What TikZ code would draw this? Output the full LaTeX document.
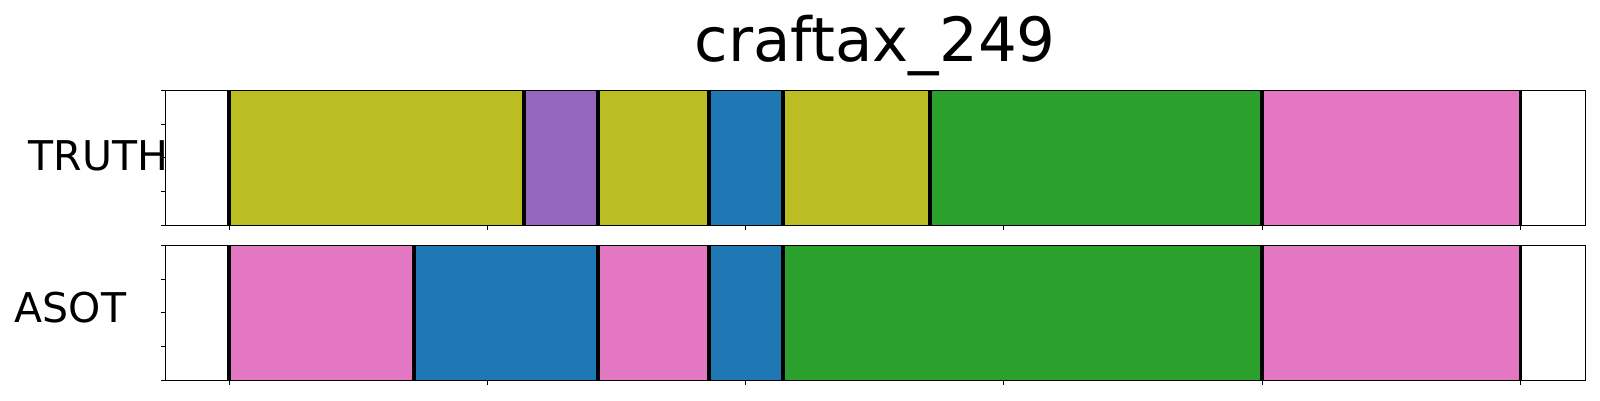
\documentclass[tikz,border=0pt]{standalone}
\usepackage{fontspec}
\setmainfont{DejaVu Sans}
\usepackage{xcolor}
\usetikzlibrary{positioning}
\definecolor{tabolive}{HTML}{BCBD22}
\definecolor{tabpurple}{HTML}{9467BD}
\definecolor{tabblue}{HTML}{1F77B4}
\definecolor{tabgreen}{HTML}{2CA02C}
\definecolor{tabpink}{HTML}{E377C2}

\begin{document}
\begin{tikzpicture}[x=1pt, y=-1pt,
  bound/.style={line width=3.7pt, black},
  frame/.style={line width=1.1pt, black},
  tick/.style={line width=1pt, black},
  rowlabel/.style={font=\fontsize{41}{41}\selectfont, anchor=base west, inner sep=0pt}]
\useasboundingbox (0,0) rectangle (1600,400);

\node[font=\fontsize{61}{61}\selectfont, anchor=base, inner sep=0pt] (title) at (875.3,61.7) {craftax\_249};
\node[rowlabel] (truth) at (28.5,170) {TRUTH};
\node[rowlabel] (asot) at (14.5,322.3) {ASOT};

% TRUTH row
\foreach \xa/\xb/\col in {229.2/523.7/tabolive, 523.7/597.7/tabpurple, 597.7/709/tabolive,
    709/783/tabblue, 783/929.7/tabolive, 929.7/1262/tabgreen, 1262/1520.5/tabpink}
  \fill[\col] (\xa,90.3) rectangle (\xb,225.3);
\foreach \xb in {229.2,523.7,597.7,709,783,929.7,1262,1520.5}
  \draw[bound] (\xb,90.3) -- (\xb,225.3);

% ASOT row
\foreach \xa/\xb/\col in {229.2/413.7/tabpink, 413.7/597.7/tabblue, 597.7/709/tabpink,
    709/783/tabblue, 783/1262/tabgreen, 1262/1520.5/tabpink}
  \fill[\col] (\xa,245.3) rectangle (\xb,380.3);
\foreach \xb in {229.2,413.7,597.7,709,783,1262,1520.5}
  \draw[bound] (\xb,245.3) -- (\xb,380.3);

% frames and ticks
\foreach \ya/\yb in {90.3/225.3, 245.3/380.3} {
  \draw[frame] (165.3,\ya) rectangle (1585.3,\yb);
  \foreach \k in {0,...,4}
    \draw[tick] (165.3,{\ya+\k*33.75}) -- (160.8,{\ya+\k*33.75});
  \foreach \k in {0,...,5}
    \draw[tick] ({229.2+\k*258.26},\yb) -- ({229.2+\k*258.26},{\yb+4.5});
}
\end{tikzpicture}
\end{document}
